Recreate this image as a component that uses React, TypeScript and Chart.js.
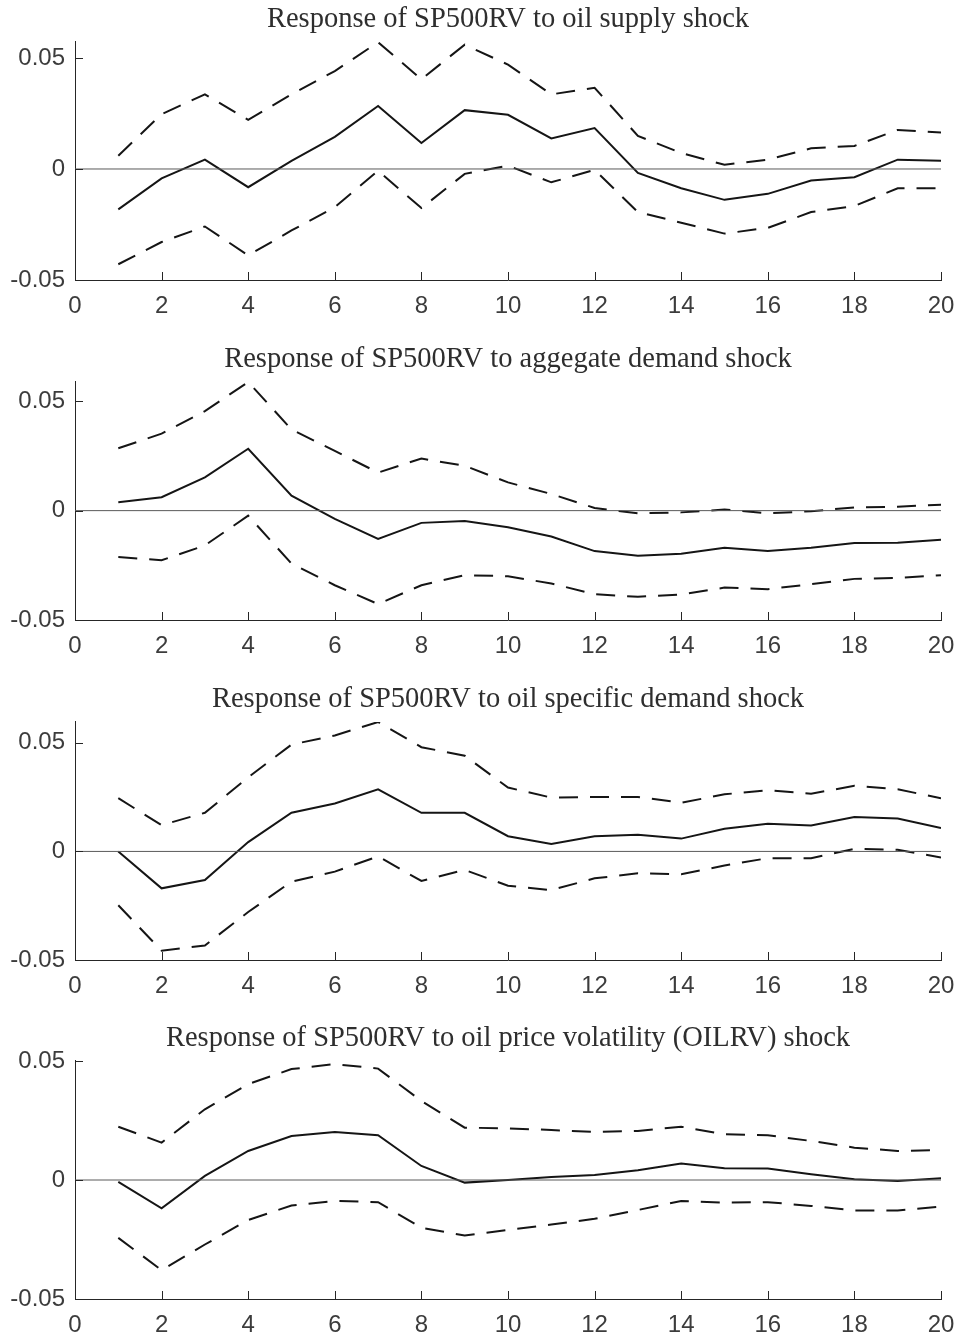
import React, { useEffect, useRef } from "react";
import { Chart, registerables } from "chart.js";

Chart.register(...registerables);

// ---------- data ----------
const horizons = [1, 2, 3, 4, 5, 6, 7, 8, 9, 10, 11, 12, 13, 14, 15, 16, 17, 18, 19, 20];
const xTickValues = [0, 2, 4, 6, 8, 10, 12, 14, 16, 18, 20];
const yTickValues = [-0.05, 0, 0.05];
const zeroLineX = [0, 20];
const zeroLineY = [0, 0];

const titles = [
  "Response of SP500RV to oil supply shock",
  "Response of SP500RV to aggegate demand shock",
  "Response of SP500RV to oil specific demand shock",
  "Response of SP500RV to oil price volatility (OILRV) shock",
];
const yMin = -0.05;
const yMaxes = [0.0572, 0.0588, 0.0596, 0.05];

const supplyIrf = [-0.0182, -0.0042, 0.0042, -0.0082, 0.0037, 0.0145, 0.0284, 0.0117, 0.0265, 0.0244, 0.0138, 0.0184, -0.0018, -0.0087, -0.0139, -0.0112, -0.0052, -0.0037, 0.0042, 0.0037];
const supplyUpper = [0.006, 0.0247, 0.0336, 0.0221, 0.0336, 0.0441, 0.0571, 0.0404, 0.056, 0.047, 0.0336, 0.0366, 0.0149, 0.0072, 0.0019, 0.0042, 0.0093, 0.0104, 0.0176, 0.0164];
const supplyLower = [-0.0429, -0.0329, -0.0259, -0.0389, -0.0277, -0.0172, -0.0008, -0.0176, -0.0022, 0.0015, -0.006, -0.0004, -0.0194, -0.0242, -0.0291, -0.0265, -0.0194, -0.0167, -0.0087, -0.0087];

const aggIrf = [0.0038, 0.0061, 0.0152, 0.0283, 0.0068, -0.0038, -0.0129, -0.0056, -0.0048, -0.0076, -0.0118, -0.0185, -0.0206, -0.0197, -0.017, -0.0185, -0.017, -0.0148, -0.0147, -0.0133];
const aggUpper = [0.0285, 0.0352, 0.0455, 0.0588, 0.0371, 0.0273, 0.0174, 0.0238, 0.0205, 0.0129, 0.0076, 0.0012, -0.0012, -0.0008, 0.0005, -0.0012, -0.0003, 0.0015, 0.0018, 0.0027];
const aggLower = [-0.0212, -0.0227, -0.0159, -0.0023, -0.0242, -0.0341, -0.0427, -0.0341, -0.0295, -0.03, -0.0333, -0.0382, -0.0394, -0.0383, -0.0352, -0.0359, -0.0336, -0.0312, -0.0308, -0.0295];

const specIrf = [0, -0.017, -0.0132, 0.0043, 0.0178, 0.0221, 0.0286, 0.0178, 0.0178, 0.007, 0.0034, 0.007, 0.0077, 0.0059, 0.0104, 0.0127, 0.0119, 0.0158, 0.0152, 0.0108];
const specUpper = [0.0245, 0.0121, 0.0178, 0.0341, 0.0492, 0.0534, 0.0596, 0.048, 0.0441, 0.0294, 0.0248, 0.0251, 0.0251, 0.0224, 0.0263, 0.0282, 0.0266, 0.0302, 0.0286, 0.0245];
const specLower = [-0.0248, -0.0457, -0.0433, -0.0279, -0.0139, -0.0093, -0.0023, -0.0136, -0.0085, -0.0158, -0.0178, -0.0124, -0.0101, -0.0105, -0.0065, -0.0031, -0.0031, 0.0012, 0.0008, -0.0028];

const volIrf = [-0.0008, -0.0119, 0.0017, 0.0122, 0.0185, 0.0202, 0.0188, 0.0059, -0.0011, 0, 0.0013, 0.0021, 0.0041, 0.0069, 0.0049, 0.0048, 0.0024, 0.0003, -0.0004, 0.0007];
const volUpper = [0.0224, 0.0157, 0.0297, 0.0403, 0.0466, 0.0487, 0.0468, 0.0332, 0.022, 0.0217, 0.021, 0.0202, 0.0206, 0.0224, 0.0192, 0.0188, 0.0164, 0.0136, 0.0122, 0.0126];
const volLower = [-0.0243, -0.0379, -0.0271, -0.0168, -0.0107, -0.0088, -0.0093, -0.0201, -0.0233, -0.021, -0.0187, -0.0163, -0.0126, -0.0088, -0.0095, -0.0093, -0.0109, -0.0128, -0.0128, -0.0112];

const panelIrf = [supplyIrf, aggIrf, specIrf, volIrf];
const panelUpper = [supplyUpper, aggUpper, specUpper, volUpper];
const panelLower = [supplyLower, aggLower, specLower, volLower];

// ---------- layout / style ----------
const PANEL_TOPS = [0, 340, 680, 1019];
const CANVAS_W = 961;
const CANVAS_H = 320;
const AXIS_COLOR = "#262626";
const TEXT_COLOR = "#3c3c3c";
const LINE_COLOR = "#151515";
const SANS = '"Liberation Sans", Arial, Helvetica, sans-serif';
const SERIF = '"Liberation Serif", "Times New Roman", serif';

const inwardTicks = {
  id: "inwardTicks",
  afterDraw(chart: any) {
    const { ctx, chartArea } = chart;
    const xs = chart.scales.x;
    const ys = chart.scales.y;
    ctx.save();
    ctx.strokeStyle = AXIS_COLOR;
    ctx.lineWidth = 1;
    ctx.beginPath();
    xs.ticks.forEach((t: any) => {
      const px = Math.round(xs.getPixelForValue(t.value)) + 0.5;
      ctx.moveTo(px, chartArea.bottom);
      ctx.lineTo(px, chartArea.bottom - 8);
    });
    ys.ticks.forEach((t: any) => {
      const py = Math.round(ys.getPixelForValue(t.value)) + 0.5;
      ctx.moveTo(chartArea.left, py);
      ctx.lineTo(chartArea.left + 8, py);
    });
    ctx.stroke();
    ctx.restore();
  },
};

function Panel({ index }: { index: number }) {
  const ref = useRef<HTMLCanvasElement | null>(null);
  useEffect(() => {
    if (!ref.current) return;
    const toPts = (vals: number[]) => horizons.map((x, i) => ({ x, y: vals[i] }));
    const chart = new Chart(ref.current, {
      type: "line",
      data: {
        datasets: [
          {
            data: zeroLineX.map((x, i) => ({ x, y: zeroLineY[i] })),
            borderColor: "#5a5a5a",
            borderWidth: 1,
            pointRadius: 0,
            tension: 0,
          },
          {
            data: toPts(panelUpper[index]),
            borderColor: LINE_COLOR,
            borderWidth: 2,
            borderDash: [19, 12],
            pointRadius: 0,
            tension: 0,
          },
          {
            data: toPts(panelLower[index]),
            borderColor: LINE_COLOR,
            borderWidth: 2,
            borderDash: [19, 12],
            pointRadius: 0,
            tension: 0,
          },
          {
            data: toPts(panelIrf[index]),
            borderColor: LINE_COLOR,
            borderWidth: 2,
            pointRadius: 0,
            tension: 0,
          },
        ],
      },
      options: {
        animation: false,
        responsive: false,
        events: [],
        layout: { padding: { left: 0, right: 20, top: 0, bottom: 0 } },
        plugins: {
          legend: { display: false },
          tooltip: { enabled: false },
          title: {
            display: true,
            fullSize: false,
            text: titles[index],
            color: "#2e2e2e",
            font: { family: SERIF, size: 28.5, weight: "normal" },
            padding: { top: 2, bottom: 5.8 },
          },
        },
        scales: {
          x: {
            type: "linear",
            min: 0,
            max: 20,
            afterBuildTicks: (s: any) => {
              s.ticks = xTickValues.map((v) => ({ value: v }));
            },
            afterFit: (s: any) => {
              s.height = CANVAS_H - 280;
              s.paddingLeft = 0;
              s.paddingRight = 0;
            },
            ticks: {
              autoSkip: false,
              maxRotation: 0,
              padding: 12,
              color: TEXT_COLOR,
              font: { family: SANS, size: 24 },
              callback: (v: any) => String(v),
            },
            grid: { display: true, drawOnChartArea: false, drawTicks: false },
            border: { display: true, color: AXIS_COLOR, width: 1 },
          },
          y: {
            type: "linear",
            min: yMin,
            max: yMaxes[index],
            afterBuildTicks: (s: any) => {
              s.ticks = yTickValues.map((v) => ({ value: v }));
            },
            afterFit: (s: any) => {
              s.width = 75;
              s.paddingTop = 0;
              s.paddingBottom = 0;
            },
            ticks: {
              padding: 10,
              color: TEXT_COLOR,
              font: { family: SANS, size: 24 },
              callback: (v: any) => (Number(v) === 0 ? "0" : Number(v).toFixed(2)),
            },
            grid: { display: true, drawOnChartArea: false, drawTicks: false },
            border: { display: true, color: AXIS_COLOR, width: 1 },
          },
        },
      } as any,
      plugins: [inwardTicks],
    });
    return () => chart.destroy();
  }, [index]);

  return (
    <canvas
      ref={ref}
      width={CANVAS_W}
      height={CANVAS_H}
      style={{
        position: "absolute",
        left: 0,
        top: PANEL_TOPS[index],
        width: CANVAS_W,
        height: CANVAS_H,
        display: "block",
      }}
    />
  );
}

export default function App() {
  return (
    <div
      style={{
        position: "absolute",
        left: 0,
        top: 0,
        width: CANVAS_W,
        height: 1339,
        overflow: "hidden",
        background: "#ffffff",
      }}
    >
      {[0, 1, 2, 3].map((i) => (
        <Panel key={i} index={i} />
      ))}
    </div>
  );
}
